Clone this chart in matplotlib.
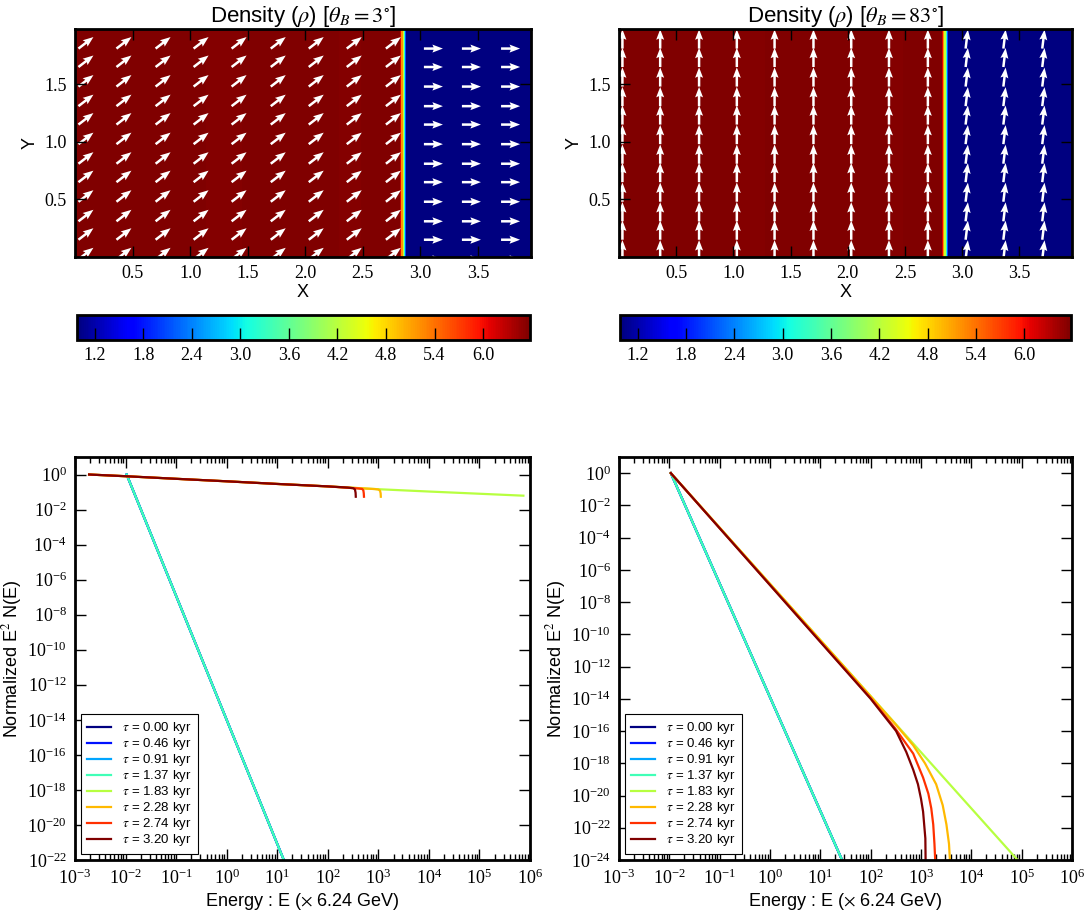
import matplotlib
matplotlib.use("Agg")
import matplotlib.pyplot as plt
import numpy as np
from matplotlib.ticker import FixedLocator, LogLocator, NullLocator

plt.rcParams['font.family'] = ['Liberation Serif', 'DejaVu Serif']
plt.rcParams['mathtext.fontset'] = 'stix'
plt.rcParams['font.size'] = 13
sans = 'Liberation Sans'

# ---- density maps (profile along x, uniform in y) ----
x_edges_3 = [0.0, 1.14, 1.45, 2.29, 2.48, 2.82, 2.835, 2.845, 2.855, 2.865, 2.875, 3.96]
rho_3 = [6.58, 6.55, 6.58, 6.54, 6.58, 6.1, 5.2, 4.3, 3.2, 2.1, 1.0]
x_edges_83 = [0.0, 1.04, 1.28, 2.36, 2.48, 2.82, 2.835, 2.845, 2.855, 2.865, 2.875, 3.96]
rho_83 = [6.58, 6.55, 6.58, 6.54, 6.58, 6.1, 5.2, 4.3, 3.2, 2.1, 1.0]
y_edges = [0.0, 1.98]
rho_min, rho_max = 0.98, 6.58
cbar_ticks = [1.2, 1.8, 2.4, 3.0, 3.6, 4.2, 4.8, 5.4, 6.0]

# magnetic field arrows (tail positions and components per column)
arrow_x = [0.03, 0.36, 0.70, 1.03, 1.36, 1.70, 2.03, 2.36, 2.70, 3.03, 3.36, 3.70]
arrow_y = [-0.02, 0.15, 0.31, 0.48, 0.65, 0.81, 0.98, 1.15, 1.31, 1.48, 1.65, 1.81]
bx_3 = [0.13, 0.13, 0.13, 0.13, 0.13, 0.13, 0.13, 0.13, 0.13, 0.165, 0.165, 0.165]
by_3 = [0.10, 0.10, 0.10, 0.10, 0.10, 0.10, 0.10, 0.10, 0.10, 0.0, 0.0, 0.0]
bx_83 = [0.0, 0.0, 0.0, 0.0, 0.0, 0.0, 0.0, 0.0, 0.0, 0.02, 0.02, 0.02]
by_83 = [0.167, 0.167, 0.167, 0.167, 0.167, 0.167, 0.167, 0.167, 0.167, 0.165, 0.165, 0.165]

# ---- spectra ----
tau_labels = ['0.00', '0.46', '0.91', '1.37', '1.83', '2.28', '2.74', '3.20']

# theta_B = 3 deg
steep_E_l = [0.0105, 13.5]
steep_N_l = [1.0, 1e-22]
flat_E_l = [1.9e-3, 1e-2, 1e-1, 1, 10, 100, 1e3, 1e4, 1e5, 7.4e5]
flat_N_l = [1.0, 0.80, 0.57, 0.41, 0.29, 0.21, 0.145, 0.107, 0.080, 0.062]
cut228_E_l = [1.9e-3, 1e-2, 1e-1, 1, 10, 100, 850, 1000, 1080, 1110, 1120]
cut228_N_l = [1.0, 0.80, 0.57, 0.41, 0.29, 0.21, 0.148, 0.14, 0.12, 0.085, 0.054]
cut274_E_l = [1.9e-3, 1e-2, 1e-1, 1, 10, 100, 400, 480, 505, 515, 520]
cut274_N_l = [1.0, 0.80, 0.57, 0.41, 0.29, 0.21, 0.16, 0.15, 0.125, 0.085, 0.054]
cut320_E_l = [1.9e-3, 1e-2, 1e-1, 1, 10, 100, 250, 320, 345, 355, 358]
cut320_N_l = [1.0, 0.80, 0.57, 0.41, 0.29, 0.21, 0.18, 0.165, 0.14, 0.09, 0.054]

# theta_B = 83 deg
steep_E_r = [0.0107, 27.0]
steep_N_r = [1.0, 1e-24]
line183_E_r = [0.0107, 8.3e4]
line183_N_r = [1.0, 1e-24]
cut228_E_r = [0.0107, 100, 300, 700, 1200, 2000, 2700, 3200, 3600, 3800]
cut228_N_r = [1.0, 1.4e-14, 3e-16, 1.3e-17, 1e-18, 5e-20, 2.5e-21, 1.6e-22, 1e-23, 5e-25]
cut274_E_r = [0.0107, 100, 300, 700, 1100, 1400, 1600, 1750, 1850, 1950]
cut274_N_r = [1.0, 1.1e-14, 1.6e-16, 4e-18, 1.3e-19, 1.3e-20, 1.6e-21, 1.6e-22, 1e-23, 3e-25]
cut320_E_r = [0.0107, 100, 320, 510, 700, 870, 1000, 1100, 1220, 1240]
cut320_N_r = [1.0, 1e-14, 1e-16, 5e-18, 4e-19, 5e-20, 6.3e-21, 1e-21, 2.2e-23, 3e-25]

spec_left = [(steep_E_l, steep_N_l)] * 4 + [(flat_E_l, flat_N_l), (cut228_E_l, cut228_N_l),
                                            (cut274_E_l, cut274_N_l), (cut320_E_l, cut320_N_l)]
spec_right = [(steep_E_r, steep_N_r)] * 4 + [(line183_E_r, line183_N_r), (cut228_E_r, cut228_N_r),
                                             (cut274_E_r, cut274_N_r), (cut320_E_r, cut320_N_r)]

W, H = 1086, 910
fig = plt.figure(figsize=(W / 100, H / 100), dpi=100)


def px(l, t, r, b):
    return [l / W, 1 - b / H, (r - l) / W, (b - t) / H]


def style_axes(ax):
    for s in ax.spines.values():
        s.set_linewidth(2)
    ax.tick_params(which='both', direction='in', top=True, right=True, width=1)
    ax.tick_params(which='major', length=8, pad=6)
    ax.tick_params(which='minor', length=4)


def density_panel(rect, crect, x_edges, rho, bx, by, angle):
    ax = fig.add_axes(px(*rect))
    mesh = ax.pcolormesh(x_edges, y_edges, [rho], cmap='jet', vmin=rho_min, vmax=rho_max)
    X, Y = np.meshgrid(arrow_x, arrow_y)
    U = np.tile(bx, (len(arrow_y), 1))
    V = np.tile(by, (len(arrow_y), 1))
    ax.quiver(X, Y, U, V, angles='xy', scale_units='xy', scale=1, pivot='tail',
              color='white', width=0.0055, headwidth=3.2, headlength=4.2, headaxislength=3.7)
    ax.set_xlim(0, 3.96)
    ax.set_ylim(0, 1.98)
    ax.xaxis.set_major_locator(FixedLocator([0.5, 1.0, 1.5, 2.0, 2.5, 3.0, 3.5]))
    ax.yaxis.set_major_locator(FixedLocator([0.5, 1.0, 1.5]))
    style_axes(ax)
    ax.set_xlabel('X', family=sans, fontsize=13, labelpad=1)
    ax.set_ylabel('Y', family=sans, fontsize=13, labelpad=4)
    ax.set_title(r'Density ($\rho$) [$\theta_B = %d^{\circ}$]' % angle,
                 family=sans, fontsize=16, pad=3)
    cax = fig.add_axes(px(*crect))
    cb = fig.colorbar(mesh, cax=cax, orientation='horizontal', ticks=cbar_ticks)
    cb.outline.set_linewidth(2)
    cax.tick_params(direction='in', length=9, width=1, pad=5)
    return ax


def spectrum_panel(rect, spectra, ymin, yticks):
    ax = fig.add_axes(px(*rect))
    colors = plt.cm.jet(np.linspace(0, 1, len(tau_labels)))
    for (E, N), lab, c in zip(spectra, tau_labels, colors):
        ax.plot(E, N, color=c, lw=1.6, label=r'$\tau$ = %s kyr' % lab)
    ax.set_xscale('log')
    ax.set_yscale('log')
    ax.set_xlim(1e-3, 1e6)
    ax.set_ylim(ymin, 1e1)
    ax.xaxis.set_major_locator(LogLocator(base=10, numticks=20))
    ax.xaxis.set_minor_locator(LogLocator(base=10, subs=np.arange(2, 10), numticks=20))
    ax.yaxis.set_major_locator(FixedLocator(yticks))
    ax.yaxis.set_minor_locator(NullLocator())
    style_axes(ax)
    ax.set_xlabel(r'Energy : E ($\times$ 6.24 GeV)', family=sans, fontsize=13, labelpad=2)
    ax.set_ylabel(r'Normalized E$^2$ N(E)', family=sans, fontsize=13, labelpad=2)
    leg = ax.legend(loc='lower left', prop={'family': sans, 'size': 9.5}, fancybox=False,
                    edgecolor='black', framealpha=1, handlelength=1.8, handletextpad=0.9,
                    labelspacing=0.0, borderaxespad=0.45, borderpad=0.45)
    leg.get_frame().set_linewidth(0.8)
    return ax


density_panel((75, 29, 531, 257), (77, 315, 530, 340), x_edges_3, rho_3, bx_3, by_3, 3)
density_panel((619, 29, 1072, 257), (620, 315, 1071, 340), x_edges_83, rho_83, bx_83, by_83, 83)

spectrum_panel((75, 457, 530, 860), spec_left, 1e-22, [10.0 ** k for k in range(0, -23, -2)])
spectrum_panel((619, 457, 1072, 860), spec_right, 1e-24, [10.0 ** k for k in range(0, -25, -2)])

fig.savefig('out.png', dpi=100, facecolor='white')
